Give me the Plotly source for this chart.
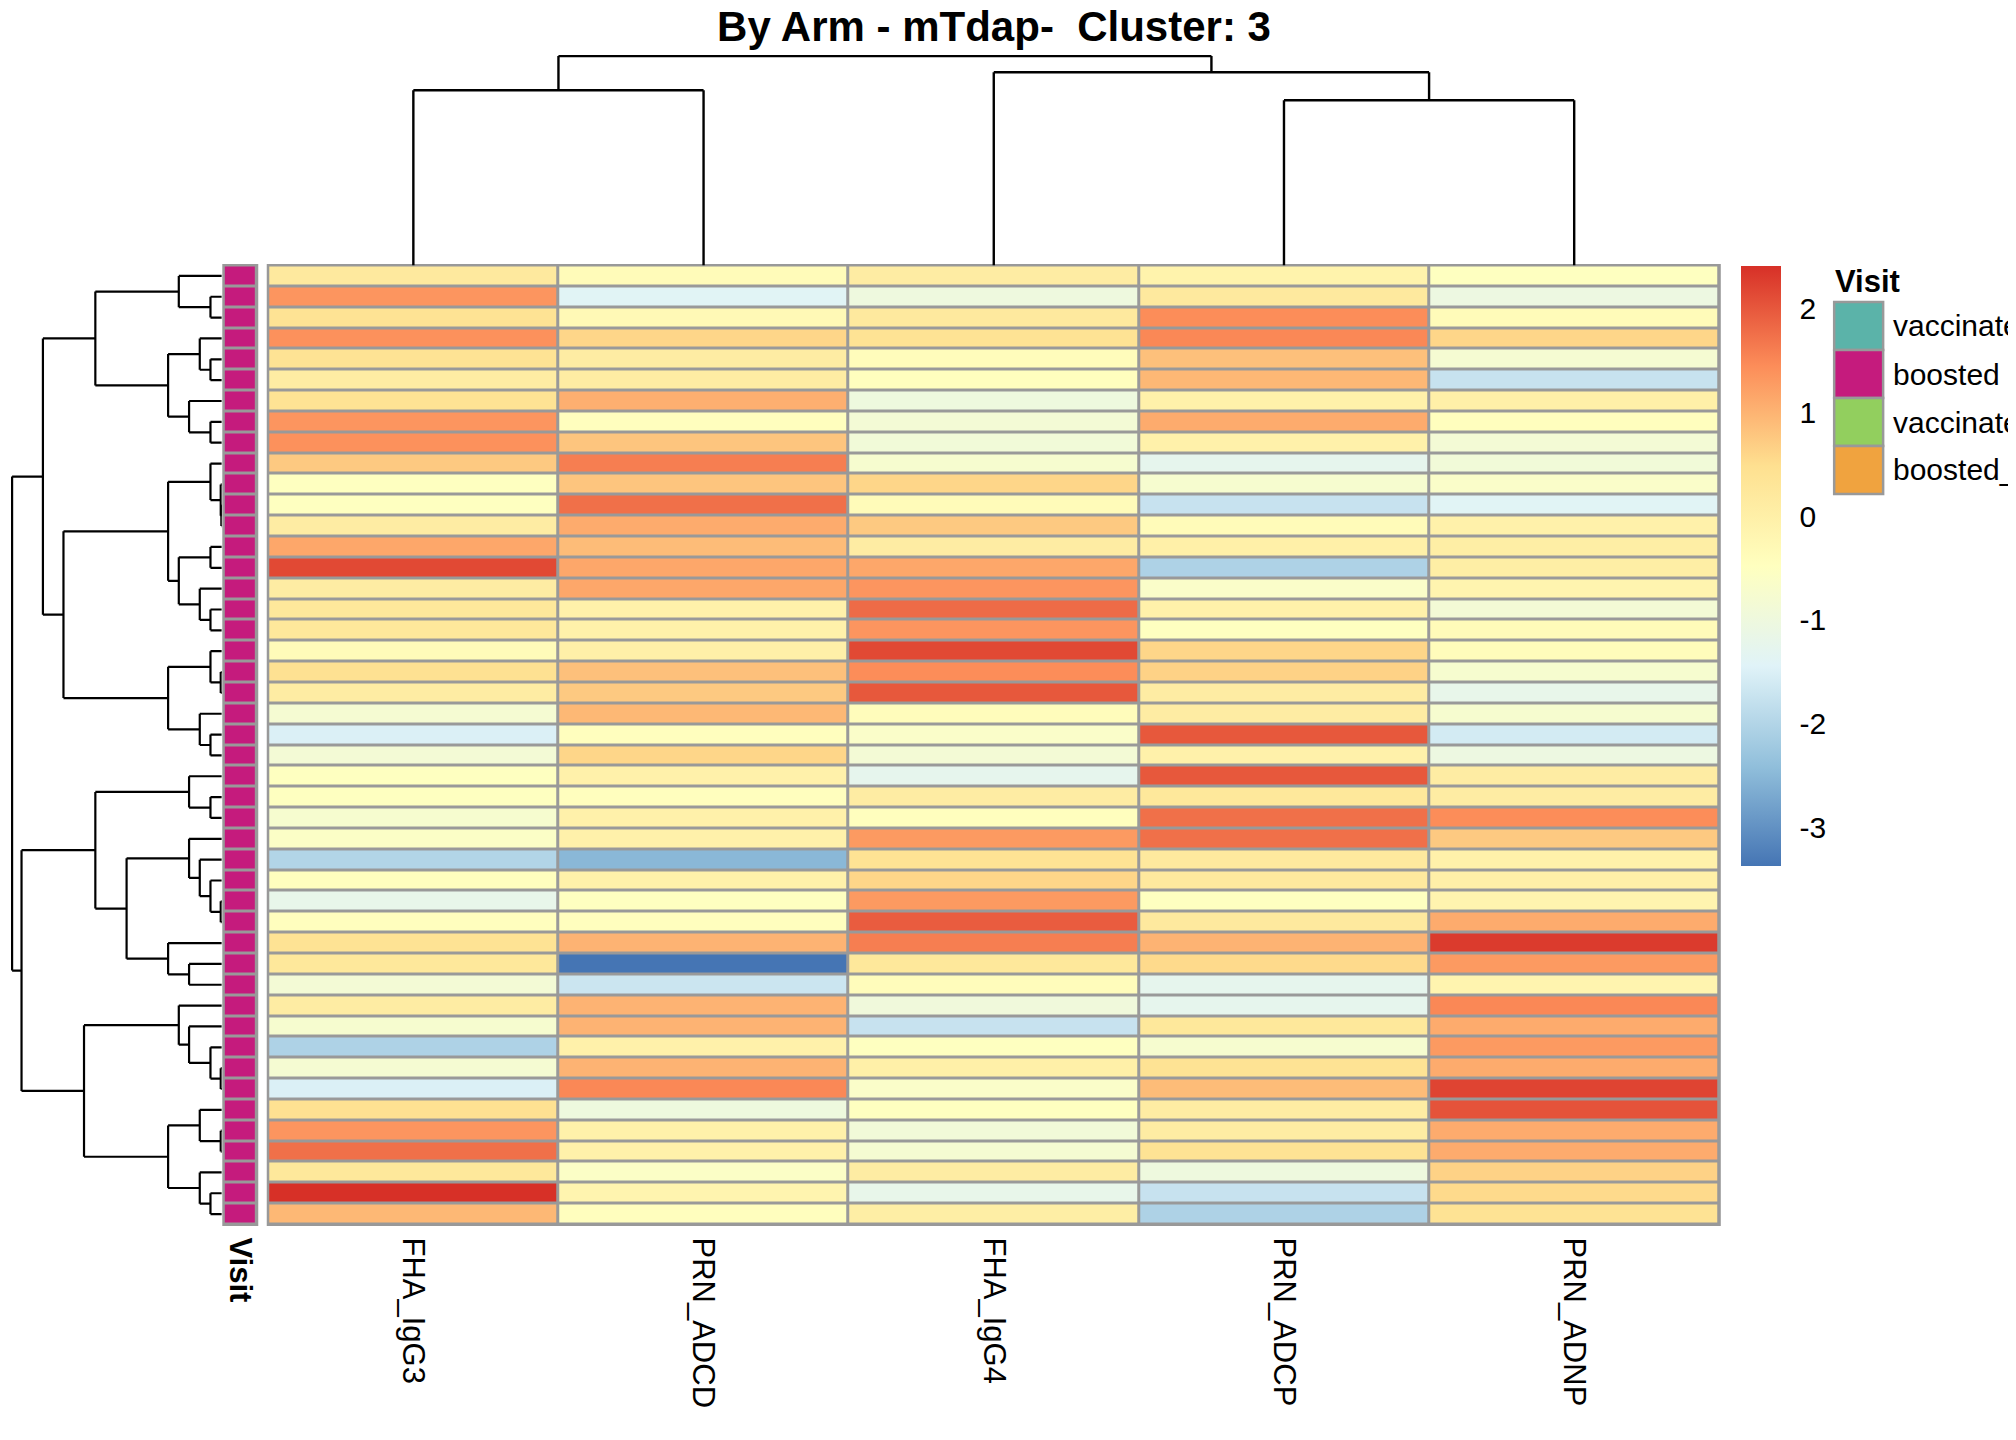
import plotly.graph_objects as go

# the page body adds an 8 px margin, so the figure is drawn 8 px smaller
OFF = 8
W, H = 2016 - OFF, 1440 - OFF
FONT = "Liberation Sans, Arial, sans-serif"

title = "By Arm - mTdap-\u00a0 Cluster: 3"
features = ["FHA_IgG3", "PRN_ADCD", "FHA_IgG4", "PRN_ADCP", "PRN_ADNP"]

# scaled values, rows already in dendrogram order (top to bottom)
fha_igg3 = [0.2, 1.35, 0.4, 1.4, 0.4, 0.1, 0.4, 1.35, 1.4, 0.75,
            -0.5, -0.5, 0.1, 1.15, 2.15, 0.1, 0.25, 0.25, -0.35, 0.45,
            0.1, -0.8, -1.5, -0.85, -0.5, -0.5, -0.75, -0.6, -2.0, -0.45,
            -1.2, -0.45, 0.4, 0.25, -0.85, 0.1, -0.75, -2.05, -0.8, -1.5,
            0.45, 1.35, 1.75, 0.25, 2.41, 0.95]
prn_adcd = [-0.35, -1.4, -0.3, 0.6, 0.1, 0.1, 1.05, -0.45, 0.8, 1.6,
            0.8, 1.75, 1.1, 0.9, 1.15, 1.15, -0.05, -0.05, 0.0, 0.85,
            0.75, 0.95, -0.45, 0.6, -0.05, -0.45, -0.05, -0.05, -2.5, -0.05,
            -0.5, -0.45, 1.0, -3.37, -1.7, 1.0, 1.0, -0.05, 1.0, 1.5,
            -1.0, -0.05, -0.05, -0.6, -0.15, -0.45]
fha_igg4 = [0.1, -1.0, 0.2, 0.4, -0.4, -0.45, -1.0, -0.85, -0.9, -0.75,
            0.6, -0.35, 0.75, 0.1, 1.15, 1.35, 1.8, 1.35, 2.15, 1.45,
            2.0, -0.4, -0.65, -0.85, -1.25, 0.1, -0.45, 1.3, 0.4, 0.6,
            1.3, 1.95, 1.6, 0.25, -0.4, -0.95, -1.75, -0.5, 0.0, -0.65,
            -0.5, -0.9, -0.8, 0.1, -1.2, 0.05]
prn_adcp = [-0.1, 0.2, 1.45, 1.5, 0.85, 0.95, -0.05, 1.1, -0.05, -1.25,
            -0.75, -1.75, -0.35, 0.0, -2.05, -0.65, -0.05, -0.5, 0.6, 0.65,
            0.1, 0.1, 2.0, -0.05, 2.0, 0.25, 1.75, 1.75, 0.2, 0.2,
            -0.5, 0.2, 1.0, 0.55, -1.25, -1.25, 0.25, -0.75, 0.4, 0.9,
            0.1, 0.1, 0.4, -1.0, -1.75, -2.05]
prn_adnp = [-0.5, -1.05, -0.35, 0.6, -0.8, -1.75, 0.0, -0.45, -0.85, -0.9,
            -0.65, -1.4, -0.05, 0.05, 0.05, -0.15, -0.85, -0.35, -0.4, -0.75,
            -1.2, -0.75, -1.6, -1.05, 0.1, 0.1, 1.45, 0.75, -0.05, 0.0,
            -0.15, 1.1, 2.3, 1.3, -0.15, 1.5, 1.1, 1.3, 1.1, 2.2,
            2.05, 1.1, 1.1, 0.65, 0.55, 0.4]
columns = [fha_igg3, prn_adcd, fha_igg4, prn_adcp, prn_adnp]
n_rows = len(fha_igg3)

visit = ["boosted"] * n_rows
visit_levels = ["vaccinated", "boosted", "vaccinated_Tdap", "boosted_Tdap"]
visit_colors = ["#5BB3A9", "#C51B7D", "#92CF5E", "#F0A33F"]

# hclust merges (scipy style): leaves 0..n-1, k-th merge gets id n+k
row_merges = [
    (1, 2, 0.54), (0, 46, 2.05), (4, 5, 0.54), (3, 48, 1.05),
    (7, 8, 0.54), (6, 50, 1.56), (49, 51, 2.56), (47, 52, 6.03),
    (11, 12, 0.02), (10, 54, 0.05), (9, 55, 0.54), (13, 14, 0.54),
    (16, 17, 0.54), (15, 58, 1.05), (57, 59, 2.05), (56, 60, 2.56),
    (19, 20, 0.05), (18, 62, 0.54), (22, 23, 0.54), (21, 64, 1.05),
    (63, 65, 2.56), (61, 66, 7.55), (53, 67, 8.53),
    (25, 26, 0.54), (24, 69, 1.56), (30, 31, 0.05), (29, 71, 0.54),
    (28, 72, 1.05), (27, 73, 1.56), (33, 34, 1.56), (32, 75, 2.56),
    (74, 76, 4.54), (70, 77, 6.03), (38, 39, 0.05), (37, 79, 0.54),
    (36, 80, 1.56), (35, 81, 2.05), (41, 42, 0.05), (40, 83, 1.05),
    (44, 45, 0.54), (43, 85, 1.05), (84, 86, 2.56), (82, 87, 6.57),
    (78, 88, 9.55), (68, 89, 10.0),
]
col_merges = [(0, 1, 8.37), (3, 4, 7.89), (2, 6, 9.23), (5, 7, 10.0)]

palette = ["#4575B4", "#91BFDB", "#E0F3F8", "#FFFFBF", "#FEE090", "#FC8D59", "#D73027"]
colorscale = [[i / 6, c] for i, c in enumerate(palette)]
zmin, zmax = -3.37, 2.41
bar_ticks = [-3, -2, -1, 0, 1, 2]


def dendro_segments(merges, n):
    pos = {i: float(i) for i in range(n)}
    hgt = {i: 0.0 for i in range(n)}
    hs, ps = [], []
    for k, (a, b, h) in enumerate(merges):
        for c in (a, b):
            hs += [hgt[c], h, None]
            ps += [pos[c], pos[c], None]
        hs += [h, h, None]
        ps += [pos[a], pos[b], None]
        pos[n + k] = (pos[a] + pos[b]) / 2
        hgt[n + k] = h
    return hs, ps


# positions below are given in screenshot pixels
def px_x(v):
    return (v - OFF) / W


def px_y(v):
    return 1 - (v - OFF) / H


z = [list(r) for r in zip(*columns)]

fig = go.Figure()

fig.add_trace(go.Heatmap(
    z=z, x=list(range(len(features))), y=list(range(n_rows)),
    colorscale=colorscale, zmin=zmin, zmax=zmax, xgap=3, ygap=3,
    xaxis="x", yaxis="y",
    colorbar=dict(
        lenmode="pixels", len=600, thickness=40,
        x=px_x(1742), xanchor="left", xpad=0,
        y=px_y(266), yanchor="top", ypad=0,
        outlinewidth=0, tickvals=bar_ticks, ticktext=[str(t) for t in bar_ticks],
        ticks="outside", ticklen=13, tickcolor="rgba(0,0,0,0)",
        tickfont=dict(family=FONT, size=30, color="black"),
    ),
))

stops = []
for i, c in enumerate(visit_colors):
    stops += [[i / len(visit_colors), c], [(i + 1) / len(visit_colors), c]]
fig.add_trace(go.Heatmap(
    z=[[visit_levels.index(v)] for v in visit], x=[0], y=list(range(n_rows)),
    colorscale=stops, zmin=-0.5, zmax=len(visit_levels) - 0.5,
    showscale=False, ygap=3, xgap=3, xaxis="x2", yaxis="y",
))

rh, rp = dendro_segments(row_merges, n_rows)
fig.add_trace(go.Scatter(x=rh, y=rp, mode="lines", xaxis="x3", yaxis="y",
                         line=dict(color="black", width=2.2), showlegend=False,
                         hoverinfo="skip"))
ch, cp = dendro_segments(col_merges, len(features))
fig.add_trace(go.Scatter(x=cp, y=ch, mode="lines", xaxis="x", yaxis="y2",
                         line=dict(color="black", width=2.4), showlegend=False,
                         hoverinfo="skip"))

top, bottom = 265.5, 1224.5
shapes = [
    dict(type="rect", xref="paper", yref="paper", layer="below",
         x0=px_x(266), x1=px_x(1721.5), y0=px_y(bottom + 1.5), y1=px_y(top - 1.5),
         fillcolor="#999999", line=dict(width=0)),
    dict(type="rect", xref="paper", yref="paper", layer="below",
         x0=px_x(221.5), x1=px_x(257.5), y0=px_y(bottom + 1.5), y1=px_y(top - 1.5),
         fillcolor="#999999", line=dict(width=0)),
]
annotations = [
    dict(text="<b>Visit</b>", xref="paper", yref="paper", x=px_x(1834), y=px_y(281),
         xanchor="left", yanchor="middle", showarrow=False,
         font=dict(family=FONT, size=31, color="black")),
]
box_top, box_h = 302, 48
for i, (lab, col) in enumerate(zip(visit_levels, visit_colors)):
    y0 = box_top + i * box_h
    shapes.append(dict(type="rect", xref="paper", yref="paper",
                       x0=px_x(1835), x1=px_x(1884), y0=px_y(y0 + box_h), y1=px_y(y0),
                       fillcolor=col, line=dict(color="#999999", width=2.5)))
    annotations.append(dict(text=lab, xref="paper", yref="paper",
                            x=px_x(1892), y=px_y(y0 + box_h / 2),
                            xanchor="left", yanchor="middle", showarrow=False,
                            font=dict(family=FONT, size=30, color="black")))

fig.update_layout(
    width=W, height=H, margin=dict(l=0, r=0, t=0, b=0),
    paper_bgcolor="white", plot_bgcolor="white", showlegend=False,
    title=dict(text="<b>" + title + "</b>", x=px_x(994), xanchor="center",
               y=px_y(26), yanchor="middle",
               font=dict(family=FONT, size=42, color="black")),
    xaxis=dict(domain=[px_x(267.5), px_x(1720)], range=[-0.5, len(features) - 0.5],
               tickvals=list(range(len(features))), ticktext=features,
               tickangle=90, ticks="", ticklabelstandoff=12, showgrid=False,
               zeroline=False, showline=False, anchor="y",
               tickfont=dict(family=FONT, size=31, color="black")),
    yaxis=dict(domain=[px_y(bottom), px_y(top)], range=[n_rows - 0.5, -0.5],
               visible=False, anchor="x"),
    xaxis2=dict(domain=[px_x(223), px_x(256)], range=[-0.5, 0.5],
                tickvals=[0], ticktext=["<b>Visit</b>"], tickangle=90, ticks="",
                ticklabelstandoff=12, showgrid=False, zeroline=False, anchor="y",
                tickfont=dict(family=FONT, size=31, color="black")),
    xaxis3=dict(domain=[px_x(9), px_x(221)], range=[10.1, 0], visible=False,
                anchor="y"),
    yaxis2=dict(domain=[px_y(top), px_y(55)], range=[0, 10.05], visible=False,
                anchor="x"),
    shapes=shapes, annotations=annotations,
)

fig.write_html("out.html")
